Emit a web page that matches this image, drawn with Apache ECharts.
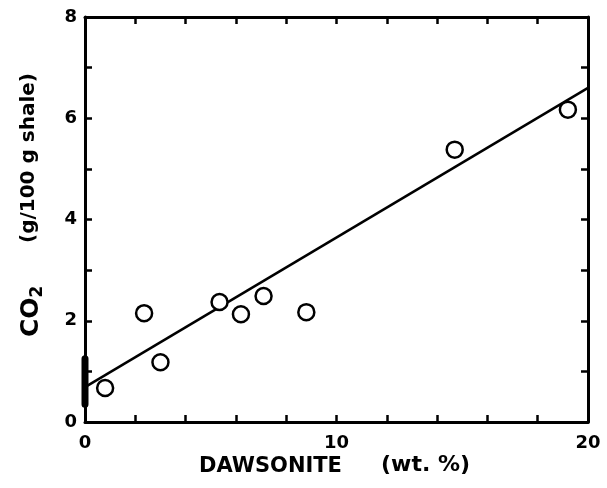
<!DOCTYPE html>
<html><head><meta charset="utf-8">
<script src="https://cdn.jsdelivr.net/npm/echarts@6/dist/echarts.min.js"></script>
<style>html,body{margin:0;padding:0;background:#fff}#c{width:607px;height:488px}</style>
</head><body><div id="c"></div>
<script>
// Data
const dawsonite = [0.8, 2.35, 3.0, 5.35, 6.2, 7.1, 8.8, 14.7, 19.2];
const co2 = [0.67, 2.15, 1.18, 2.37, 2.13, 2.49, 2.17, 5.38, 6.17];
const zeroClusterX = [0, 0, 0, 0, 0, 0, 0, 0, 0, 0];
const zeroClusterY = [0.35, 0.45, 0.55, 0.65, 0.75, 0.85, 0.95, 1.05, 1.15, 1.25];
const fitX = [0, 20];
const fitY = [0.69, 6.6];
const xTickLabels = ['0', '10', '20'];
const yTickLabels = ['0', '2', '4', '6', '8'];

const F = 'DejaVu Sans';
const chart = echarts.init(document.getElementById('c'));
const axisLine = {show: true, onZero: false, lineStyle: {color: '#000', width: 3}};
const axisTick = {show: true, inside: true, length: 7, lineStyle: {color: '#000', width: 2.5}};
chart.setOption({
  animation: false,
  backgroundColor: '#fff',
  grid: {left: 85, right: 19, top: 17, bottom: 66},
  xAxis: [{
    type: 'value', min: 0, max: 20, interval: 2, position: 'bottom',
    axisLine, axisTick, splitLine: {show: false},
    axisLabel: {color: '#000', fontFamily: F, fontWeight: 'bold', fontSize: 18, margin: 12,
      formatter: v => xTickLabels.includes(String(v)) ? String(v) : ''}
  }, {
    type: 'value', min: 0, max: 20, interval: 2, position: 'top',
    axisLine, axisTick, splitLine: {show: false}, axisLabel: {show: false}
  }],
  yAxis: [{
    type: 'value', min: 0, max: 8, interval: 1, position: 'left',
    axisLine, axisTick, splitLine: {show: false},
    axisLabel: {color: '#000', fontFamily: F, fontWeight: 'bold', fontSize: 18, margin: 8,
      formatter: v => yTickLabels.includes(String(v)) ? String(v) : ''}
  }, {
    type: 'value', min: 0, max: 8, interval: 1, position: 'right',
    axisLine, axisTick, splitLine: {show: false}, axisLabel: {show: false}
  }],
  graphic: [{
    type: 'text', left: 199, top: 456,
    style: {text: 'DAWSONITE', fontFamily: F, fontWeight: 'bold', fontSize: 21, fill: '#000'}
  }, {
    type: 'text', left: 381, top: 454,
    style: {text: '(wt. %)', fontFamily: F, fontWeight: 'bold', fontSize: 22, fill: '#000'}
  }, {
    type: 'text', x: 17, y: 337, rotation: Math.PI / 2,
    style: {
      text: '{a|CO}{s|2}',
      rich: {
        a: {fontFamily: F, fontWeight: 'bold', fontSize: 25, fill: '#000'},
        s: {fontFamily: F, fontWeight: 'bold', fontSize: 17, fill: '#000', verticalAlign: 'bottom', padding: [12, 0, 0, 0]}
      }
    }
  }, {
    type: 'text', x: 19, y: 243, rotation: Math.PI / 2,
    style: {text: '(g/100 g shale)', fontFamily: F, fontWeight: 'bold', fontSize: 20, fill: '#000'}
  }],
  series: [{
    type: 'line', data: fitX.map((x, i) => [x, fitY[i]]), showSymbol: false,
    lineStyle: {color: '#000', width: 2.5}, z: 2
  }, {
    type: 'line', data: zeroClusterX.map((x, i) => [x, zeroClusterY[i]]), showSymbol: false,
    lineStyle: {color: '#000', width: 7, cap: 'round'}, z: 4
  }, {
    type: 'scatter', data: dawsonite.map((x, i) => [x, co2[i]]),
    symbol: 'circle', symbolSize: 16,
    itemStyle: {color: '#fff', borderColor: '#000', borderWidth: 2.5, opacity: 1}, z: 3
  }]
});
</script></body></html>
